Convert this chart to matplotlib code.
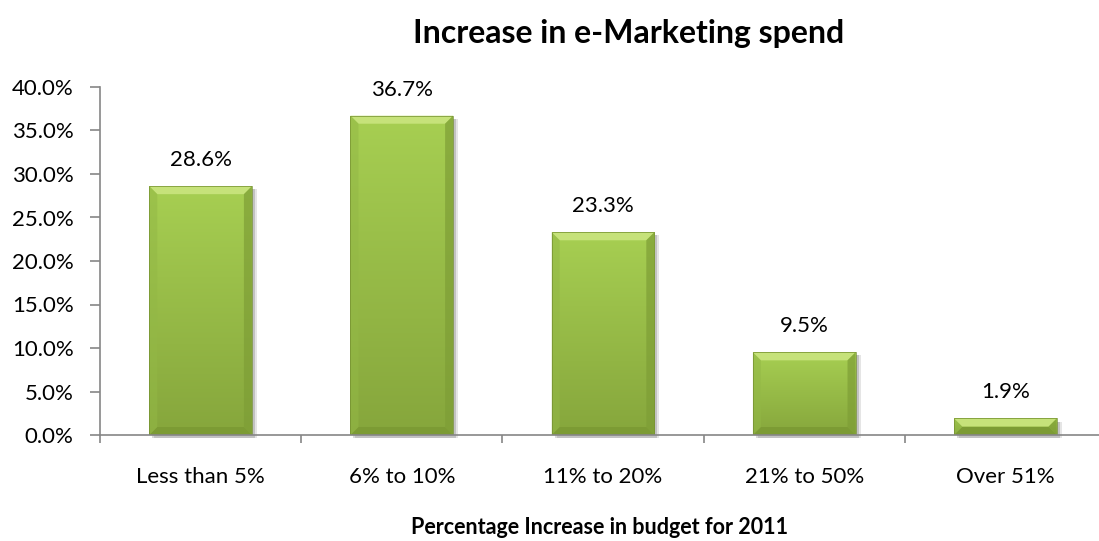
import numpy as np
import matplotlib
matplotlib.use('agg')
import matplotlib.pyplot as plt
from matplotlib.patches import Polygon, Rectangle
from matplotlib.ticker import FuncFormatter, FixedLocator

plt.rcParams['font.family'] = ['Lato', 'DejaVu Sans']

# survey results
categories = ['Less than 5%', '6% to 10%', '11% to 20%', '21% to 50%', 'Over 51%']
shares = [28.6, 36.7, 23.3, 9.5, 1.9]

title = 'Increase in e-Marketing spend'
xlabel = 'Percentage Increase in budget for 2011'

fig = plt.figure(figsize=(10.99, 5.41), dpi=100)
ax = fig.add_axes([100 / 1099, 106 / 541, 1006 / 1099, 348 / 541])

x = np.arange(len(categories))
bw = 0.51
bars = ax.bar(x, shares, width=bw, color='#98BF46', zorder=2)

ax.set_xlim(-0.5, len(categories) - 0.5)
ax.set_ylim(0, 40)

# gradient fill, bevel and shadow on every bar
grad = np.linspace(0, 1, 256).reshape(-1, 1)
cmap = matplotlib.colors.LinearSegmentedColormap.from_list('g', ['#86A63C', '#A7CF52'])
px_x = 1.0 / 201.2   # data units per pixel, x
px_y = 40.0 / 348    # data units per pixel, y
for b in bars:
    x0, w, h = b.get_x(), b.get_width(), b.get_height()
    x1 = x0 + w
    b.set_facecolor('none')
    # soft shadow
    for k, a in zip([5, 3], [0.10, 0.15]):
        ax.add_patch(Rectangle((x0 + k * px_x, -0.35), w, h, facecolor='#000000',
                               alpha=a, lw=0, zorder=1.5, clip_on=False))
    im = ax.imshow(grad, cmap=cmap, aspect='auto', extent=(x0, x1, 0, h),
                   origin='lower', zorder=2.1)
    im.set_clip_path(Rectangle((x0, 0), w, h, transform=ax.transData))
    bx = 8 * px_x
    by = min(8 * px_y, h / 2)
    top = Polygon([(x0, h), (x1, h), (x1 - bx, h - by), (x0 + bx, h - by)],
                  closed=True, facecolor='#C6E27A', lw=0, zorder=2.2)
    bot = Polygon([(x0, 0), (x1, 0), (x1 - bx, by), (x0 + bx, by)],
                  closed=True, facecolor='#7C9B34', lw=0, zorder=2.2)
    left = Polygon([(x0, 0), (x0, h), (x0 + bx, h - by), (x0 + bx, by)],
                   closed=True, facecolor='#93B846', lw=0, alpha=0.55, zorder=2.2)
    right = Polygon([(x1, 0), (x1, h), (x1 - bx, h - by), (x1 - bx, by)],
                    closed=True, facecolor='#7E9E36', lw=0, alpha=0.7, zorder=2.2)
    for p in (top, bot, left, right):
        ax.add_patch(p)
    ax.add_patch(Rectangle((x0, 0), w, h, facecolor='none', edgecolor='#748F30',
                           lw=0.5, zorder=2.3))
    ax.text(b.get_x() + w / 2, h + 26 * px_y, f'{h:.1f}%', ha='center', va='center',
            fontsize=16, color='#000000')

for s in ('top', 'right'):
    ax.spines[s].set_visible(False)
for s in ('left', 'bottom'):
    ax.spines[s].set_color('#868686')
    ax.spines[s].set_linewidth(1.2)
    ax.spines[s].set_zorder(3)

ax.yaxis.set_major_locator(FixedLocator(np.arange(0, 40.1, 5)))
ax.yaxis.set_major_formatter(FuncFormatter(lambda v, p: f'{v:.1f}%'))
ax.tick_params(axis='y', direction='out', length=7, color='#868686', width=1.2,
               labelsize=16, pad=12)

# category labels centred, tick marks on the boundaries
ax.xaxis.set_major_locator(FixedLocator(np.arange(-0.5, len(categories), 1)))
ax.xaxis.set_major_formatter(FuncFormatter(lambda v, p: ''))
ax.set_xticks(x, categories, minor=True)
ax.tick_params(axis='x', which='major', direction='out', length=6, color='#868686', width=1.2)
ax.tick_params(axis='x', which='minor', length=0, labelsize=16, pad=30)
for lab in ax.get_xticklabels(minor=True):
    lab.set_verticalalignment('center')

fig.text(600 / 1099, 1 - 528 / 541, xlabel, ha='center', va='center',
         fontsize=15.5, fontweight='bold')
fig.text(629 / 1099, 1 - 33 / 541, title, ha='center', va='center',
         fontsize=23, fontweight='bold')

fig.savefig('out.png', dpi=100)
